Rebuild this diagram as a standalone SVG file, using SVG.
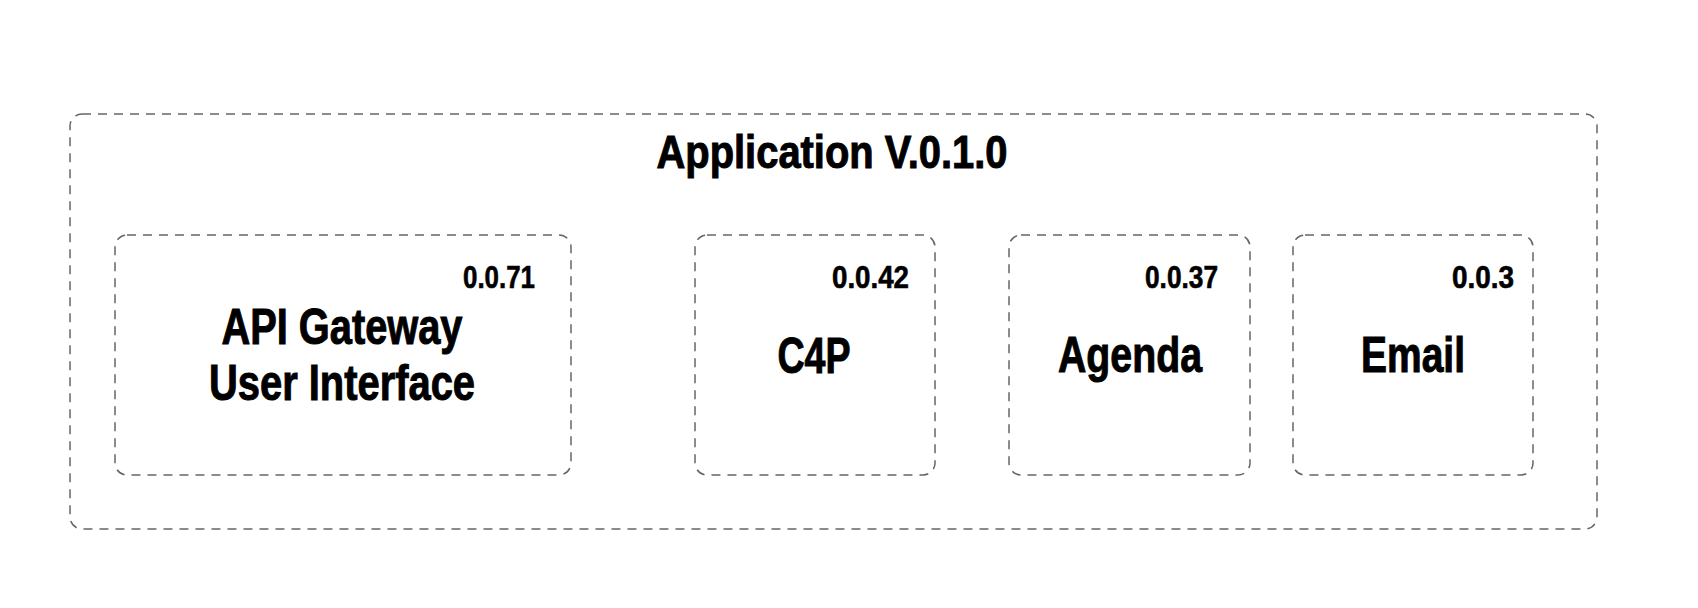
<svg xmlns="http://www.w3.org/2000/svg" width="1698" height="608" viewBox="0 0 1698 608">
  <style>
    .frame { fill: none; stroke: #666666; stroke-width: 1.5; stroke-dasharray: 9 7; }
    .title { font-family: "Liberation Sans", Arial, sans-serif; font-weight: bold; font-size: 46px; fill: #000000; stroke: #000000; stroke-width: 1; text-anchor: middle; }
    .label { font-family: "Liberation Sans", Arial, sans-serif; font-weight: bold; font-size: 50px; fill: #000000; stroke: #000000; stroke-width: 1; text-anchor: middle; }
    .ver { font-family: "Liberation Sans", Arial, sans-serif; font-weight: bold; font-size: 31px; fill: #000000; stroke: #000000; stroke-width: 0.6; text-anchor: end; }
  </style>
  <rect x="0" y="0" width="1698" height="608" fill="#ffffff"/>
  <g id="application">
    <rect class="frame" x="70" y="114" width="1527" height="415" rx="12" ry="12"/>
    <text class="title" x="832" y="168" textLength="351" lengthAdjust="spacingAndGlyphs">Application V.0.1.0</text>
  </g>
  <g id="api-gateway">
    <rect class="frame" x="115" y="235" width="456" height="240" rx="12" ry="12"/>
    <text class="ver" x="535" y="288" textLength="72" lengthAdjust="spacingAndGlyphs">0.0.71</text>
    <text class="label" x="342" y="344" textLength="241" lengthAdjust="spacingAndGlyphs">API Gateway</text>
    <text class="label" x="342" y="400" textLength="266" lengthAdjust="spacingAndGlyphs">User Interface</text>
  </g>
  <g id="c4p">
    <rect class="frame" x="695" y="235" width="240" height="240" rx="12" ry="12"/>
    <text class="ver" x="909" y="288" textLength="77" lengthAdjust="spacingAndGlyphs">0.0.42</text>
    <text class="label" x="814" y="373" textLength="73" lengthAdjust="spacingAndGlyphs">C4P</text>
  </g>
  <g id="agenda">
    <rect class="frame" x="1009" y="235" width="241" height="240" rx="12" ry="12"/>
    <text class="ver" x="1218" y="288" textLength="73" lengthAdjust="spacingAndGlyphs">0.0.37</text>
    <text class="label" x="1130" y="372" textLength="144" lengthAdjust="spacingAndGlyphs">Agenda</text>
  </g>
  <g id="email">
    <rect class="frame" x="1293" y="235" width="240" height="240" rx="12" ry="12"/>
    <text class="ver" x="1514" y="288" textLength="62" lengthAdjust="spacingAndGlyphs">0.0.3</text>
    <text class="label" x="1413" y="372" textLength="104" lengthAdjust="spacingAndGlyphs">Email</text>
  </g>
  <g id="connectors"></g>
</svg>
